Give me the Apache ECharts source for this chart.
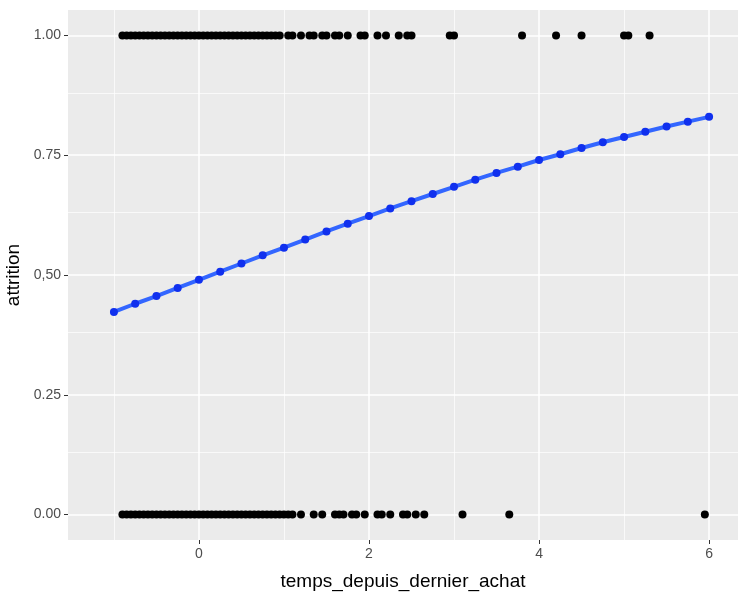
<!DOCTYPE html><html><head><meta charset="utf-8"><script src="https://cdn.jsdelivr.net/npm/echarts@6/dist/echarts.min.js"></script></head><body style="margin:0"><div id="c" style="width:750px;height:600px"></div><script>
const xTicks=[0,2,4,6], xMinor=[-1,1,3,5];
const yTicks=[0,0.25,0.5,0.75,1], yMinor=[0.125,0.375,0.625,0.875];
const yLabels=['0.00','0.25','0,50','0.75','1.00'];
const top1=[-0.9,-0.85,-0.8,-0.75,-0.7,-0.65,-0.6,-0.55,-0.5,-0.45,-0.4,-0.35,-0.3,-0.25,-0.2,-0.15,-0.1,-0.05,0,0.05,0.1,0.15,0.2,0.25,0.3,0.35,0.4,0.45,0.5,0.55,0.6,0.65,0.7,0.75,0.8,0.85,0.9,0.95,1.05,1.1,1.2,1.3,1.35,1.45,1.5,1.6,1.65,1.75,1.9,1.95,2.1,2.2,2.35,2.45,2.5,2.95,3.0,3.8,4.2,4.5,5.0,5.05,5.3];
const bottom0=[-0.9,-0.85,-0.8,-0.75,-0.7,-0.65,-0.6,-0.55,-0.5,-0.45,-0.4,-0.35,-0.3,-0.25,-0.2,-0.15,-0.1,-0.05,0,0.05,0.1,0.15,0.2,0.25,0.3,0.35,0.4,0.45,0.5,0.55,0.6,0.65,0.7,0.75,0.8,0.85,0.9,0.95,1.0,1.05,1.1,1.2,1.35,1.45,1.6,1.65,1.7,1.8,1.85,1.95,2.1,2.15,2.25,2.4,2.45,2.55,2.65,3.1,3.65,5.95];
const fitX=[-1,-0.75,-0.5,-0.25,0,0.25,0.5,0.75,1,1.25,1.5,1.75,2,2.25,2.5,2.75,3,3.25,3.5,3.75,4,4.25,4.5,4.75,5,5.25,5.5,5.75,6];
const fitY=[0.423,0.440,0.456,0.473,0.490,0.507,0.524,0.541,0.557,0.574,0.591,0.607,0.623,0.639,0.654,0.669,0.684,0.699,0.713,0.726,0.740,0.752,0.765,0.777,0.788,0.799,0.810,0.820,0.830];
const F='Liberation Sans, Arial, sans-serif';
const ml=(arr,key,w)=>arr.map(v=>({[key]:v,lineStyle:{color:'#fff',width:w,type:'solid'}}));
const ch=echarts.init(document.getElementById('c'));
ch.setOption({animation:false,backgroundColor:'#fff',
grid:{left:68,right:12,top:10,bottom:60,show:true,backgroundColor:'#EBEBEB',borderWidth:0,outerBoundsMode:'none',containLabel:false},
xAxis:{type:'value',min:-1.54,max:6.34,name:'temps_depuis_dernier_achat',nameLocation:'middle',nameGap:32,nameTextStyle:{fontFamily:F,fontSize:19,color:'#000'},
 splitLine:{show:false},axisLine:{show:false,onZero:false},axisTick:{show:true,customValues:xTicks,length:4,lineStyle:{color:'#333'}},
 axisLabel:{customValues:xTicks,fontFamily:F,fontSize:14,color:'#4D4D4D',margin:7}},
yAxis:{type:'value',min:-0.053,max:1.053,name:'attrition',nameLocation:'middle',nameGap:41,nameTextStyle:{fontFamily:F,fontSize:19,color:'#000'},
 splitLine:{show:false},axisLine:{show:false,onZero:false},axisTick:{show:true,customValues:yTicks,length:4,lineStyle:{color:'#333'}},
 axisLabel:{customValues:yTicks,fontFamily:F,fontSize:14,color:'#4D4D4D',margin:7,formatter:v=>yLabels[yTicks.indexOf(v)]??''}},
series:[
{type:'line',data:[],silent:true,z:0,markLine:{silent:true,z:0,symbol:'none',label:{show:false},animation:false,
 data:[...ml(xMinor,'xAxis',0.7),...ml(yMinor,'yAxis',0.7),...ml(xTicks,'xAxis',1.5),...ml(yTicks,'yAxis',1.5)]}},
{type:'scatter',z:5,data:top1.map(x=>[x,1]),symbolSize:8,itemStyle:{color:'#000',opacity:1}},
{type:'scatter',z:5,data:bottom0.map(x=>[x,0]),symbolSize:8,itemStyle:{color:'#000',opacity:1}},
{type:'line',z:6,data:fitX.map((x,i)=>[x,fitY[i]]),symbol:'none',lineStyle:{color:'#3366FF',width:4}},
{type:'scatter',z:7,data:fitX.map((x,i)=>[x,fitY[i]]),symbolSize:8,itemStyle:{color:'#1030EE',opacity:1}}
]});
</script></body></html>
